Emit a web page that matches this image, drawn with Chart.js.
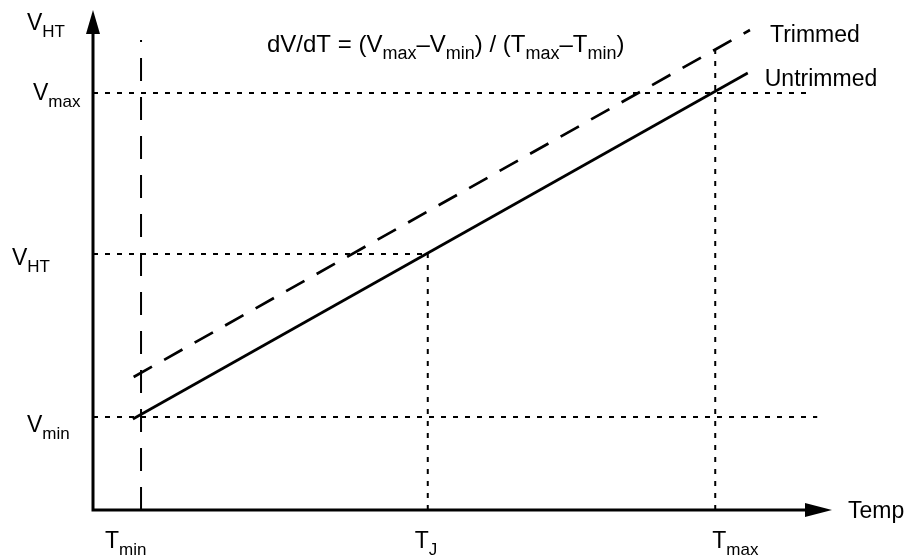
<!DOCTYPE html>
<html>
<head>
<meta charset="utf-8">
<script src="https://cdn.jsdelivr.net/npm/chart.js@4.4.1/dist/chart.umd.min.js"></script>
<style>
  html, body { margin: 0; padding: 0; background: #fff; }
  canvas { display: block; }
</style>
</head>
<body>
<canvas id="chart" width="908" height="558"></canvas>
<script>
	// values (axis units 0..100)
	var tempTicks = [6.5, 45.3, 84.2];			// T_min, T_J, T_max
	var tempNames = [['T', 'min'], ['T', 'J'], ['T', 'max']];
	var voltTicks = [18.6, 51.2, 83.4];			// V_min, V_HT, V_max
	var voltNames = [['V', 'min'], ['V', 'HT'], ['V', 'max']];

	var untrimmedT = [5.4, 88.6];
	var untrimmedV = [18.2, 87.4];
	var trimmedT = [5.5, 88.9];
	var trimmedV = [26.6, 96];

	// how far the guide lines run
	var hGuideEnd = [98, tempTicks[1], 96.6];		// x end for V_min, V_HT, V_max
	var vGuideEnd = [94, voltTicks[1], 93.4];		// y end for T_min, T_J, T_max

	function pts(xs, ys) {
		return xs.map(function(x, i) { return {x: x, y: ys[i]}; });
	}

	var datasets = [
		{ label: 'Untrimmed', data: pts(untrimmedT, untrimmedV), borderColor: '#000', borderWidth: 2.7 },
		{ label: 'Trimmed', data: pts(trimmedT, trimmedV), borderColor: '#000', borderWidth: 2.7, borderDash: [21, 14] }
	];
	voltTicks.forEach(function(v, i) {
		datasets.push({ data: pts([0, hGuideEnd[i]], [v, v]), borderColor: '#000', borderWidth: 2, borderDash: [5, 7] });
	});
	tempTicks.forEach(function(t, i) {
		datasets.push({ data: pts([t, t], [0, vGuideEnd[i]]), borderColor: '#000', borderWidth: 2,
			borderDash: i == 0 ? [23, 16] : [5, 7] });
	});
	datasets.forEach(function(d) { d.showLine = true; d.pointRadius = 0; d.fill = false; d.borderCapStyle = 'butt'; });

	var FONT = '"Liberation Sans", Arial, sans-serif';

	// draws text made of [string, isSub] pieces, returns end x
	function rich(ctx, x, y, parts, size, subSize) {
		parts.forEach(function(p) {
			ctx.font = (p[1] ? subSize : size) + 'px ' + FONT;
			ctx.fillText(p[0], x, p[1] ? y + 7 : y);
			x += ctx.measureText(p[0]).width;
		});
		return x;
	}

	var tempOffset = [-36, -13, -3];
	var voltLabelPos = [[27, 15], [12, 11], [33, 7]];	// [left x, baseline offset]

	var diagram = {
		id: 'diagram',
		afterDatasetsDraw: function(chart) {
			var ctx = chart.ctx, xs = chart.scales.x, ys = chart.scales.y;
			var x0 = xs.getPixelForValue(0), y0 = ys.getPixelForValue(0);
			var xEnd = xs.getPixelForValue(100), yEnd = ys.getPixelForValue(100);
			ctx.save();
			ctx.strokeStyle = '#000';
			ctx.fillStyle = '#000';
			ctx.lineWidth = 3;
			ctx.beginPath();
			ctx.moveTo(x0, y0 + 1.5);
			ctx.lineTo(x0, yEnd + 20);
			ctx.moveTo(x0 - 1.5, y0);
			ctx.lineTo(xEnd - 20, y0);
			ctx.stroke();
			// arrow heads
			ctx.beginPath();
			ctx.moveTo(x0, yEnd);
			ctx.lineTo(x0 - 7, yEnd + 24);
			ctx.lineTo(x0 + 7, yEnd + 24);
			ctx.closePath();
			ctx.fill();
			ctx.beginPath();
			ctx.moveTo(xEnd, y0);
			ctx.lineTo(xEnd - 27, y0 - 7);
			ctx.lineTo(xEnd - 27, y0 + 7);
			ctx.closePath();
			ctx.fill();

			ctx.textBaseline = 'alphabetic';
			ctx.textAlign = 'left';
			rich(ctx, 27, 30, [['V', 0], ['HT', 1]], 23, 17);
			rich(ctx, xEnd + 16, y0 + 8, [['Temp', 0]], 23, 17);

			tempTicks.forEach(function(t, i) {
				rich(ctx, xs.getPixelForValue(t) + tempOffset[i], y0 + 38,
					[[tempNames[i][0], 0], [tempNames[i][1], 1]], 23, 17);
			});
			voltTicks.forEach(function(v, i) {
				rich(ctx, voltLabelPos[i][0], ys.getPixelForValue(v) + voltLabelPos[i][1],
					[[voltNames[i][0], 0], [voltNames[i][1], 1]], 23, 17);
			});

			var tEnd = trimmedT.length - 1, uEnd = untrimmedT.length - 1;
			rich(ctx, xs.getPixelForValue(trimmedT[tEnd]) + 20, ys.getPixelForValue(trimmedV[tEnd]) + 12,
				[['Trimmed', 0]], 23, 17);
			rich(ctx, xs.getPixelForValue(untrimmedT[uEnd]) + 17, ys.getPixelForValue(untrimmedV[uEnd]) + 13,
				[['Untrimmed', 0]], 23, 17);

			rich(ctx, 267, 52, [['dV/dT = (V', 0], ['max', 1], ['\u2013V', 0], ['min', 1],
				[') / (T', 0], ['max', 1], ['\u2013T', 0], ['min', 1], [')', 0]], 24, 18);
			ctx.restore();
		}
	};

	window.onload = function() {
		var ctx = document.getElementById('chart').getContext('2d');
		new Chart(ctx, {
			type: 'scatter',
			data: { datasets: datasets },
			options: {
				responsive: false,
				animation: false,
				devicePixelRatio: 1,
				layout: { padding: { left: 93, right: 76, top: 10, bottom: 48 } },
				scales: {
					x: { type: 'linear', min: 0, max: 100, display: false },
					y: { type: 'linear', min: 0, max: 100, display: false }
				},
				plugins: { legend: { display: false }, tooltip: { enabled: false } }
			},
			plugins: [diagram]
		});
	};
</script>
</body>
</html>
